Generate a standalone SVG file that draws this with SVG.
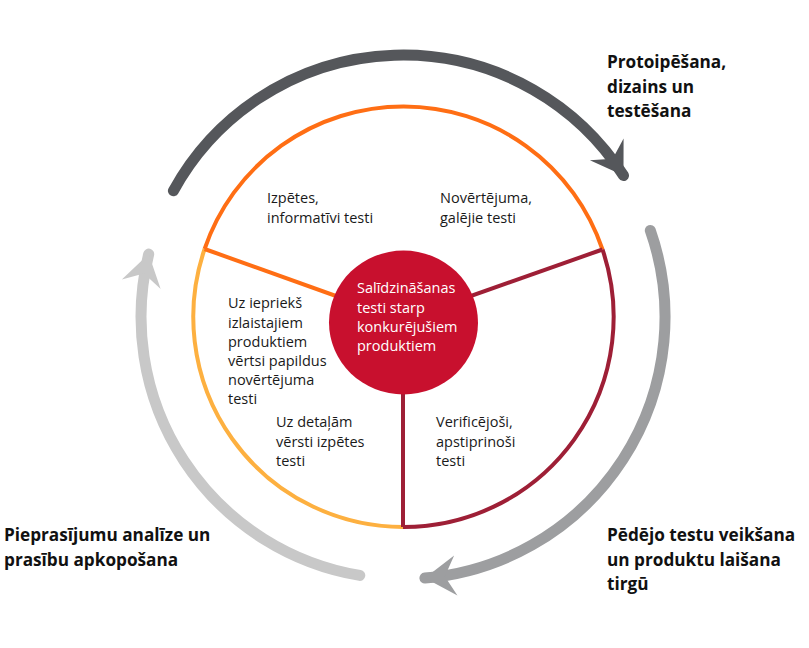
<svg xmlns="http://www.w3.org/2000/svg" width="809" height="648" viewBox="0 0 809 648">
<style>
.t{font-family:"Open Sans","Noto Sans","Liberation Sans",sans-serif;font-size:14.5px;fill:#1a1a1a}
.w{fill:#ffffff}
.b{font-family:"Open Sans","Noto Sans","Liberation Sans",sans-serif;font-size:17.2px;font-weight:bold;fill:#111111}
.ring{fill:none;stroke-width:4}
.cyc{fill:none;stroke-width:11;stroke-linecap:round}
</style>
<defs>
<path id="ah" d="M0,0 L-31,-20 L-20,0 L-31,20 Z"/>
</defs>
<rect width="809" height="648" fill="#ffffff"/>
<g id="connectors">
<g id="cycle-top">
<path class="cyc" stroke="#55575B" d="M173.4,190.8 A262,262 0 0 1 623.5,175.5"/>
<use href="#ah" fill="#55575B" transform="translate(623.5,175.5) rotate(57.3)"/>
</g>
<g id="cycle-right">
<path class="cyc" stroke="#9D9EA0" d="M650.3,230.4 A262,262 0 0 1 424.9,578.1"/>
<use href="#ah" fill="#9D9EA0" transform="translate(424.9,578.1) rotate(175.2)"/>
</g>
<g id="cycle-left">
<path class="cyc" stroke="#C8C8C8" d="M359.8,575.4 A262,262 0 0 1 148.7,254.1"/>
<use href="#ah" fill="#C8C8C8" transform="translate(148.7,254.1) rotate(-76.1)"/>
</g>
<g id="ring">
<path class="ring" stroke="#FDB040" d="M403,527 A210,210 0 0 1 204.6,249"/>
<path class="ring" stroke="#9E1F36" d="M602.5,249.5 A210,210 0 0 1 403,527"/>
<path class="ring" stroke="#FF6E14" d="M204.6,249 A210,210 0 0 1 602.5,249.5"/>
<line class="ring" stroke="#FF6E14" x1="204.6" y1="249" x2="403" y2="320"/>
<line class="ring" stroke="#9E1F36" x1="602.5" y1="249.5" x2="403" y2="320"/>
<line class="ring" stroke="#9E1F36" x1="403" y1="320" x2="403" y2="527"/>
</g>
</g>
<g id="center">
<ellipse cx="403.5" cy="322.5" rx="74.5" ry="72" fill="#C8102E"/>
<text class="t w" x="357" y="293">Salīdzināšanas</text>
<text class="t w" x="357" y="313">testi starp</text>
<text class="t w" x="357" y="332">konkurējušiem</text>
<text class="t w" x="357" y="351">produktiem</text>
</g>
<g id="seg-izpetes">
<text class="t" x="267" y="203">Izpētes,</text>
<text class="t" x="267" y="223">informatīvi testi</text>
</g>
<g id="seg-novertejuma">
<text class="t" x="440" y="203">Novērtējuma,</text>
<text class="t" x="440" y="223">galējie testi</text>
</g>
<g id="seg-ieprieks">
<text class="t" x="228" y="308">Uz iepriekš</text>
<text class="t" x="228" y="328">izlaistajiem</text>
<text class="t" x="228" y="347">produktiem</text>
<text class="t" x="228" y="366">vērtsi papildus</text>
<text class="t" x="228" y="385">novērtējuma</text>
<text class="t" x="228" y="404">testi</text>
</g>
<g id="seg-detalam">
<text class="t" x="276" y="427">Uz detaļām</text>
<text class="t" x="276" y="447">vērsti izpētes</text>
<text class="t" x="276" y="466">testi</text>
</g>
<g id="seg-verificejosi">
<text class="t" x="436" y="427">Verificējoši,</text>
<text class="t" x="436" y="447">apstiprinoši</text>
<text class="t" x="436" y="466">testi</text>
</g>
<g id="label-protoipesana">
<text class="b" x="607" y="68">Protoipēšana,</text>
<text class="b" x="607" y="93">dizains un</text>
<text class="b" x="607" y="117">testēšana</text>
</g>
<g id="label-pedejo">
<text class="b" x="607" y="541">Pēdējo testu veikšana</text>
<text class="b" x="607" y="566">un produktu laišana</text>
<text class="b" x="607" y="590">tirgū</text>
</g>
<g id="label-pieprasijumu">
<text class="b" x="4" y="541">Pieprasījumu analīze un</text>
<text class="b" x="4" y="566">prasību apkopošana</text>
</g>
</svg>
